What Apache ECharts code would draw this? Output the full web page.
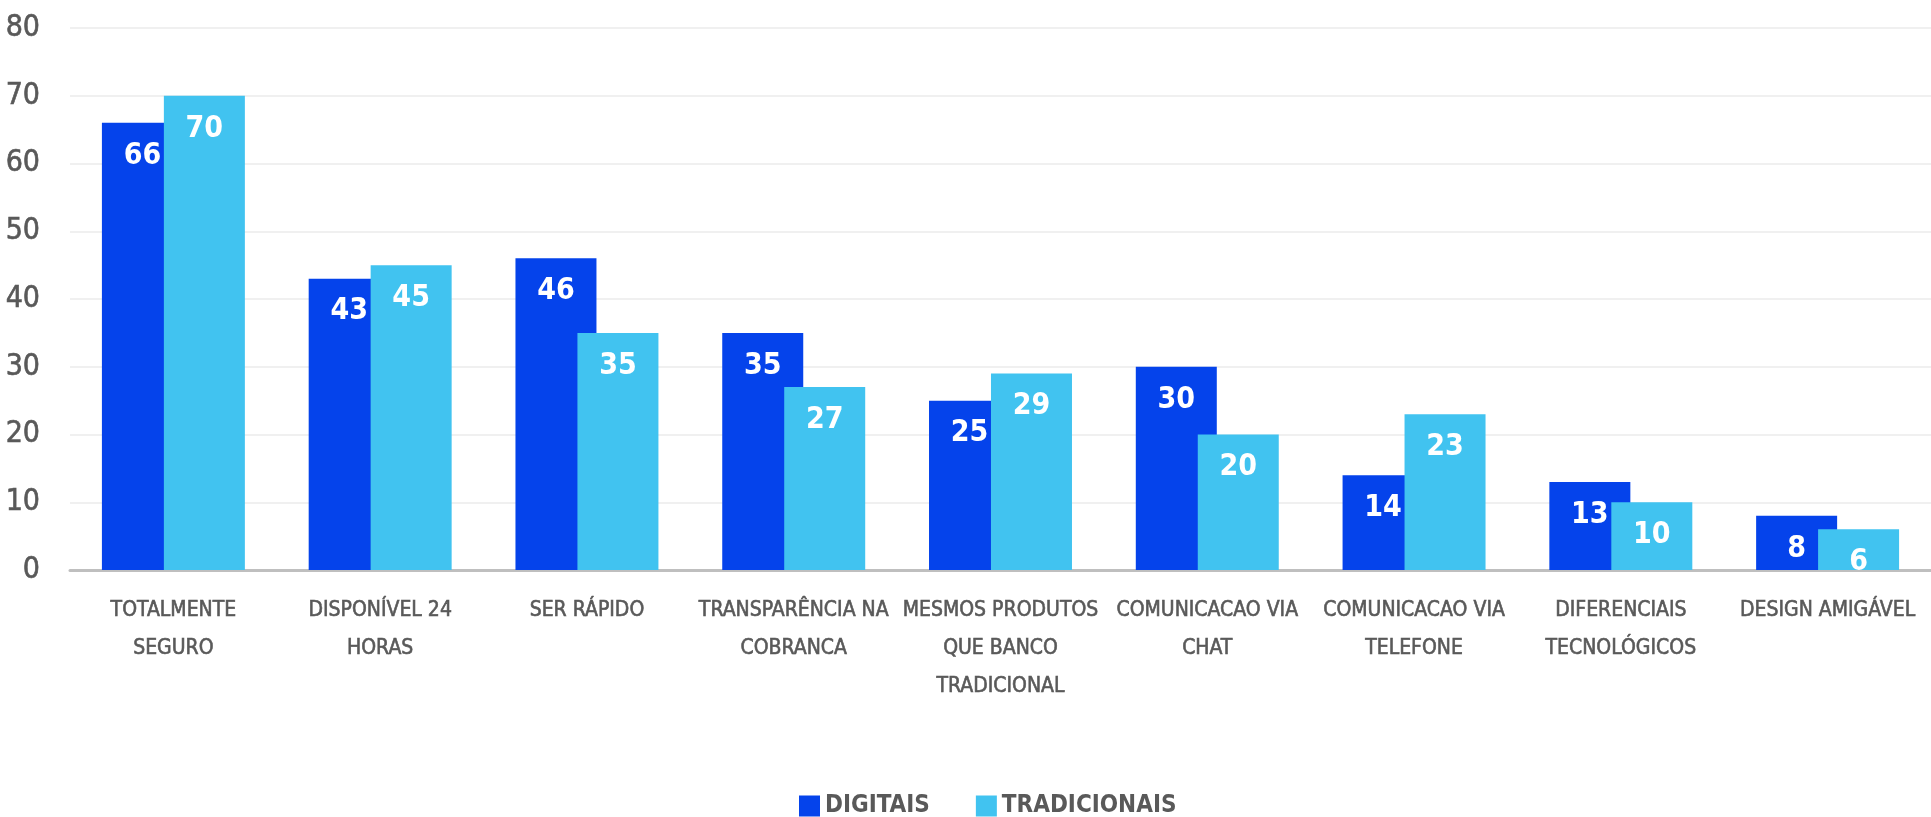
<!DOCTYPE html>
<html>
<head>
<meta charset="utf-8">
<script src="https://cdn.jsdelivr.net/npm/echarts@6/dist/echarts.min.js"></script>
<style>
  html, body { margin: 0; padding: 0; background: #fff; }
  #chart { width: 1931px; height: 817px; }
</style>
</head>
<body>
<div id="chart"></div>
<script>
const categories = [
  "TOTALMENTE\nSEGURO",
  "DISPONÍVEL 24\nHORAS",
  "SER RÁPIDO",
  "TRANSPARÊNCIA NA\nCOBRANCA",
  "MESMOS PRODUTOS\nQUE BANCO\nTRADICIONAL",
  "COMUNICACAO VIA\nCHAT",
  "COMUNICACAO VIA\nTELEFONE",
  "DIFERENCIAIS\nTECNOLÓGICOS",
  "DESIGN AMIGÁVEL"
];
const digitais = [66, 43, 46, 35, 25, 30, 14, 13, 8];
const tradicionais = [70, 45, 35, 27, 29, 20, 23, 10, 6];

const FONT = '"DejaVu Sans Condensed", "Liberation Sans Narrow", sans-serif';
const chart = echarts.init(document.getElementById("chart"));

const barLabel = {
  show: true,
  position: "insideTop",
  distance: 18,
  color: "#fff",
  fontFamily: FONT,
  fontWeight: "bold",
  fontSize: 30
};

chart.setOption({
  animation: false,
  backgroundColor: "#fff",
  grid: { left: 70, top: 28, width: 1873, bottom: 247 },
  legend: {
    top: 789,
    left: 794,
    itemWidth: 21,
    itemHeight: 21,
    itemGap: 46,
    icon: "rect",
    textStyle: { color: "#595959", fontFamily: FONT, fontWeight: "bold", fontSize: 24 },
    data: ["DIGITAIS", "TRADICIONAIS"]
  },
  xAxis: {
    type: "category",
    data: categories,
    axisTick: { show: false },
    axisLine: { lineStyle: { color: "#bfbfbf", width: 3 } },
    axisLabel: {
      color: "#595959",
      fontFamily: FONT,
      fontSize: 21,
      lineHeight: 38,
      margin: 22,
      interval: 0,
      textBorderColor: "#595959",
      textBorderWidth: 0.6
    }
  },
  yAxis: {
    type: "value",
    min: 0,
    max: 80,
    interval: 10,
    axisLabel: {
      color: "#595959",
      fontFamily: FONT,
      fontSize: 30,
      margin: 30,
      textBorderColor: "#595959",
      textBorderWidth: 0.6
    },
    splitLine: { lineStyle: { color: "#f0f0f0", width: 2 } }
  },
  series: [
    {
      name: "DIGITAIS",
      type: "bar",
      data: digitais,
      barWidth: 81,
      barGap: "-23.5%",
      itemStyle: { color: "#0543EB" },
      label: barLabel
    },
    {
      name: "TRADICIONAIS",
      type: "bar",
      data: tradicionais,
      barWidth: 81,
      itemStyle: { color: "#41C3F0" },
      label: barLabel
    }
  ]
});
</script>
</body>
</html>
